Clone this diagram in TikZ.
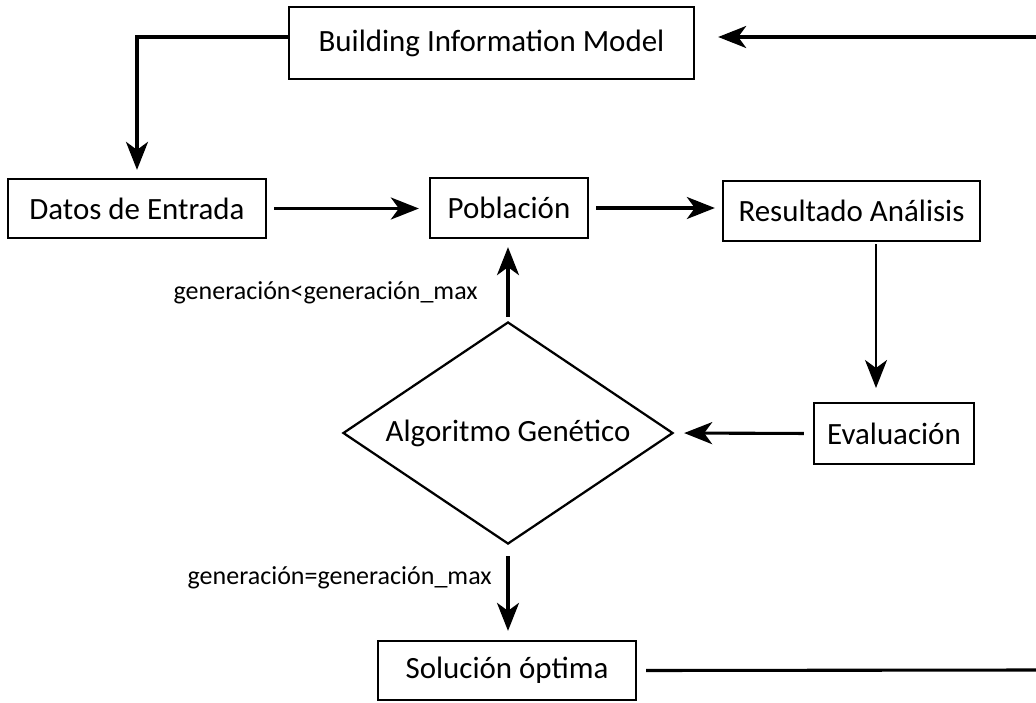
\documentclass[tikz,border=0pt]{standalone}
\usepackage{fontspec}
\setmainfont{Carlito}
\usetikzlibrary{shapes.geometric,arrows.meta}
\begin{document}
\begin{tikzpicture}[
  x=0.025cm, y=-0.025cm,
  box/.style={draw, line width=1.6pt, inner sep=0pt, font=\fontsize{22}{26}\selectfont},
  flow/.style={line width=2.2pt, -{Stealth[length=0.7cm, width=0.55cm, inset=0.2cm]}},
  thinflow/.style={flow, line width=1.5pt},
  plain/.style={line width=2.2pt},
  cond/.style={font=\fontsize{18.5}{22}\selectfont, inner sep=0pt}
]
\useasboundingbox (0,0) rectangle (1036,702);

% process boxes
\node[box, minimum width=10.125cm, minimum height=1.8cm] (bim) at (491.5,43) {Building Information Model};
\node[box, minimum width=6.45cm, minimum height=1.475cm] (datos) at (137,208.5) {Datos de Entrada};
\node[box, minimum width=3.95cm, minimum height=1.5cm] (pob) at (509,208) {Población};
\node[box, minimum width=6.425cm, minimum height=1.5cm] (res) at (851.5,211) {Resultado Análisis};
\node[box, minimum width=4cm, minimum height=1.525cm] (eva) at (894,433.5) {Evaluación};
\node[box, diamond, aspect=1.5, minimum width=8.25cm, minimum height=5.55cm] (ag) at (508,433) {Algoritmo Genético};
\node[box, minimum width=6.45cm, minimum height=1.475cm] (sol) at (507,670.5) {Solución óptima};

% free ends at the right margin
\coordinate (rtop) at (1036,37);
\coordinate (rbot) at (1036,670);
\coordinate (resout) at (876,241);
\coordinate (evain) at (876,403);

% connectors
\draw[flow, shorten >=0.575cm] (rtop) -- (bim.east |- rtop);
\draw[flow, shorten >=0.2cm] (bim.west |- rtop) -| (datos.north);
\draw[flow, shorten <=0.175cm, shorten >=0.25cm] (datos.east) -- (pob.west |- datos.east);
\draw[flow, shorten <=0.175cm, shorten >=0.175cm] (pob.east) -- (res.west |- pob.east);
\draw[thinflow, shorten <=0.08cm, shorten >=0.375cm] (resout) -- (evain);
\draw[flow, shorten <=0.225cm, shorten >=0.25cm] (eva.west) -- (ag.east);
\draw[flow, shorten <=0.1cm, shorten >=0.2cm] (ag.north) -- (ag.north |- pob.south);
\draw[flow, shorten <=0.275cm, shorten >=0.225cm] (ag.south) -- (ag.south |- sol.north);
\draw[plain, shorten <=0.225cm] (sol.east) -- (rbot);

% loop conditions
\node[cond, anchor=east] (lt) at (478,293) {generación<generación\_max};
\node[cond, anchor=east] (eq) at (492,578) {generación=generación\_max};
\end{tikzpicture}
\end{document}
